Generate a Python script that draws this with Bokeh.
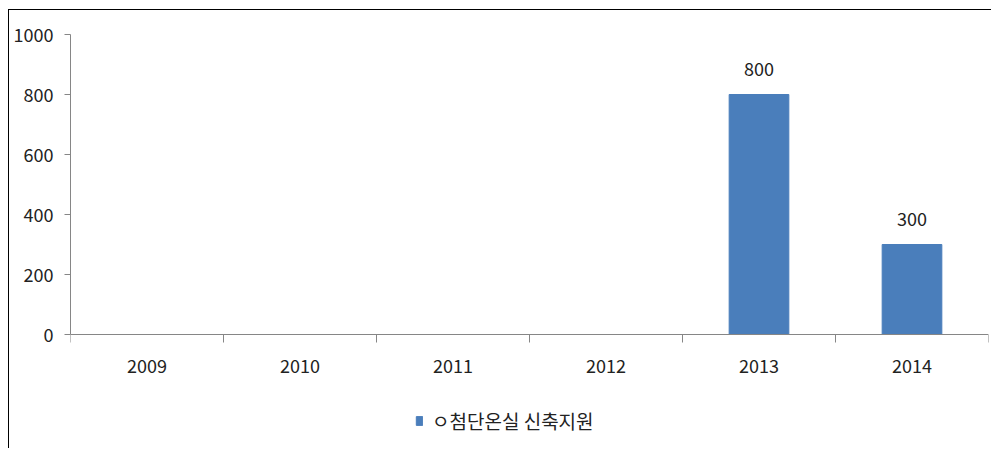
from bokeh.plotting import figure
from bokeh.models import ColumnDataSource, FixedTicker, LabelSet, Legend, LegendItem, Range1d
from bokeh.core.properties import value
from bokeh.embed import file_html
from bokeh.resources import INLINE

years = ["2009", "2010", "2011", "2012", "2013", "2014"]
values = [0, 0, 0, 0, 800, 300]
series_name = "ㅇ첨단온실 신축지원"
y_ticks = [0, 200, 400, 600, 800, 1000]

xs = [i + 0.5 for i in range(len(years))]
labels = [str(v) if v else "" for v in values]
src = ColumnDataSource(dict(x=xs, top=values, label=labels, year=years))

FONT = "Noto Sans CJK KR"
TXT = "#222222"
AX = "#868686"

# frame: 415 px tall, value axis 0..1000 spans 300 px; space below 0 holds the category labels and legend
p = figure(width=983, height=439, output_backend="svg", toolbar_location=None,
           x_range=Range1d(0, len(years)), y_range=Range1d(-383.33, 1000),
           min_border_left=61, min_border_right=4, min_border_top=24, min_border_bottom=0)
p.styles = {"margin-left": "8px", "margin-top": "9px",
            "border-top": "1px solid #000", "border-left": "1px solid #000"}
p.outline_line_color = None
p.xgrid.grid_line_color = None
p.ygrid.grid_line_color = None

r = p.vbar(x="x", top="top", width=0.39, bottom=0, source=src,
           fill_color="#4a7ebb", line_color="#4a7ebb")

p.add_layout(LabelSet(x="x", y="top", text="label", source=src, text_align="center",
                      text_baseline="bottom", y_offset=19, text_font_size="18px",
                      text_font=value(FONT), text_color=TXT))

xa = p.xaxis[0]
xa.fixed_location = 0
xa.ticker = FixedTicker(ticks=xs, minor_ticks=list(range(len(years) + 1)))
xa.major_label_overrides = {x: y for x, y in zip(xs, years)}
xa.major_tick_out = 0
xa.major_tick_in = 0
xa.minor_tick_out = 8
xa.minor_tick_in = 0
xa.minor_tick_line_color = AX
xa.axis_line_color = AX
xa.major_label_standoff = 16
xa.major_label_text_font = FONT
xa.major_label_text_font_size = "18px"
xa.major_label_text_color = TXT

ya = p.yaxis[0]
ya.bounds = (0, 1000)
ya.ticker = FixedTicker(ticks=y_ticks, minor_ticks=[])
ya.major_tick_out = 6
ya.major_tick_in = 0
ya.major_tick_line_color = AX
ya.axis_line_color = AX
ya.major_label_standoff = 11
ya.major_label_text_font = FONT
ya.major_label_text_font_size = "18px"
ya.major_label_text_color = TXT

legend = Legend(items=[LegendItem(label=series_name, renderers=[r])],
                orientation="horizontal", location=(345, 15),
                label_text_font=FONT, label_text_font_size="19px", label_text_color=TXT,
                glyph_width=8, glyph_height=11, label_standoff=9,
                border_line_color=None, background_fill_alpha=0,
                margin=0, padding=0)
p.add_layout(legend)

open("out.html", "w").write(file_html(p, INLINE))
